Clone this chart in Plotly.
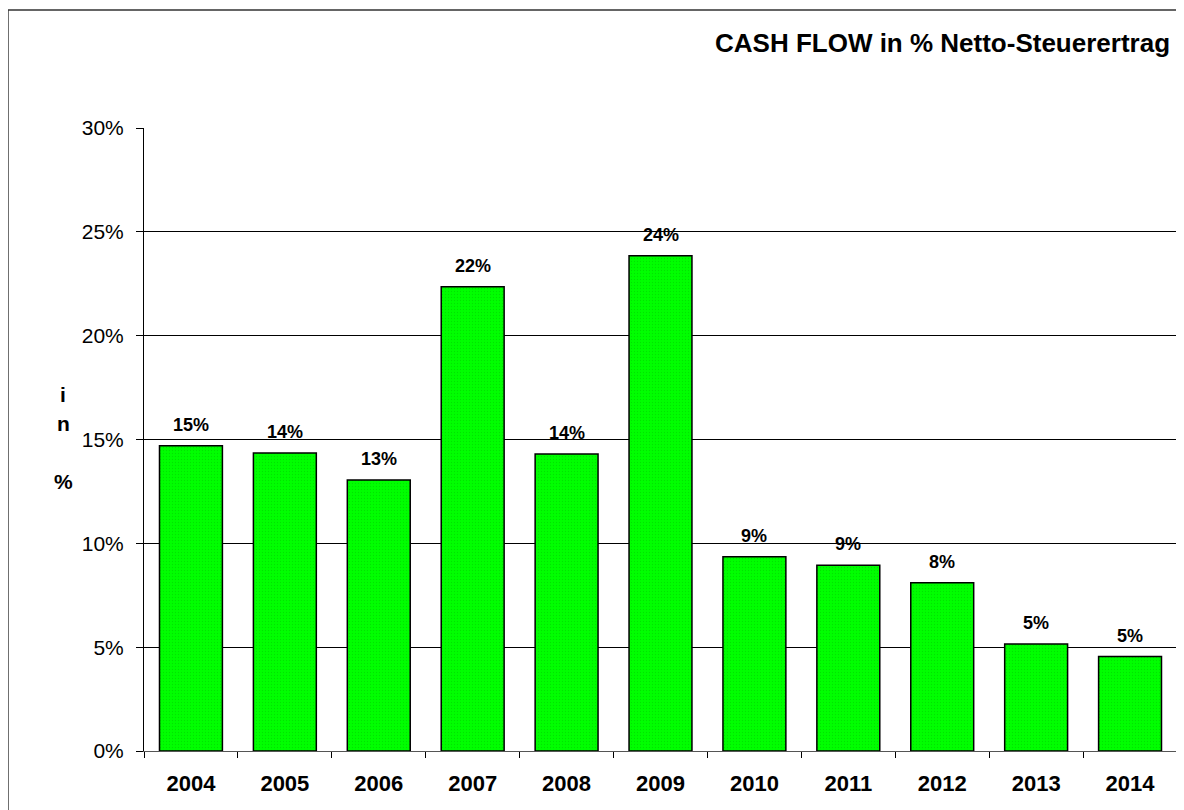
import plotly.graph_objects as go

# 年次データ
years = ["2004", "2005", "2006", "2007", "2008", "2009",
         "2010", "2011", "2012", "2013", "2014"]
cash_flow_pct = [14.7, 14.35, 13.05, 22.35, 14.3, 23.85,
                 9.35, 8.95, 8.1, 5.15, 4.55]
y_ticks = [0, 5, 10, 15, 20, 25, 30]

title_text = "CASH FLOW in % Netto-Steuerertrag"
y_title_chars = ["i", "n", "%"]

FONT = "Arial, Liberation Sans"

fig = go.Figure()

fig.add_trace(go.Bar(
    x=years,
    y=cash_flow_pct,
    marker=dict(
        color="#00FF00",
        line=dict(color="#000000", width=1.5),
        pattern=dict(shape=".", fgcolor="#00C800", size=3, solidity=0.15),
    ),
    width=0.67,
    hoverinfo="x+y",
))

# バーの上のラベル（カテゴリ軸なのでインデックスで指定）
for i, v in enumerate(cash_flow_pct):
    fig.add_annotation(
        x=i, y=v, text=f"{int(v + 0.5)}%",
        showarrow=False, yanchor="bottom", yshift=9,
        font=dict(family=FONT, size=18, color="#000000", weight="bold"),
    )

# タイトル（右上、端いっぱい）
fig.add_annotation(
    xref="paper", yref="paper", x=0.551, y=1.1364,
    text=title_text, showarrow=False, xanchor="left", yanchor="middle",
    font=dict(family=FONT, size=26, color="#000000", weight="bold"),
)

# 縦書き風の軸タイトル
for ch, yp in zip(y_title_chars, [0.573, 0.525, 0.432]):
    fig.add_annotation(
        xref="paper", yref="paper", x=-0.078, y=yp,
        text=ch, showarrow=False, xanchor="center", yanchor="middle",
        font=dict(family=FONT, size=21, color="#000000", weight="bold"),
    )

# 外枠
fig.add_shape(
    type="rect", xref="paper", yref="paper",
    x0=-0.1317, y0=-0.2, x1=1.2, y1=1.1894,
    line=dict(color="#333333", width=1.5),
)

fig.update_layout(
    width=1184, height=810,
    paper_bgcolor="#FFFFFF", plot_bgcolor="#FFFFFF",
    showlegend=False,
    bargap=0.33,
    margin=dict(l=136, r=15, t=120, b=67),
    xaxis=dict(
        type="category",
        automargin=False,
        tickangle=0,
        showline=True, linecolor="#555555", linewidth=1,
        ticks="outside", tickson="boundaries", ticklen=6, tickcolor="#000000",
        ticklabelstandoff=13,
        tickfont=dict(family=FONT, size=22, color="#000000", weight="bold"),
        showgrid=False,
    ),
    yaxis=dict(
        range=[0, 30],
        automargin=False,
        tickvals=y_ticks,
        ticktext=[f"{t}%" for t in y_ticks],
        showline=True, linecolor="#000000", linewidth=1,
        ticks="outside", ticklen=7, tickcolor="#000000",
        ticklabelstandoff=8,
        tickfont=dict(family=FONT, size=21, color="#000000"),
        showgrid=True, gridcolor="#000000", gridwidth=1,
        zeroline=False,
    ),
)

fig.write_html("out.html")
